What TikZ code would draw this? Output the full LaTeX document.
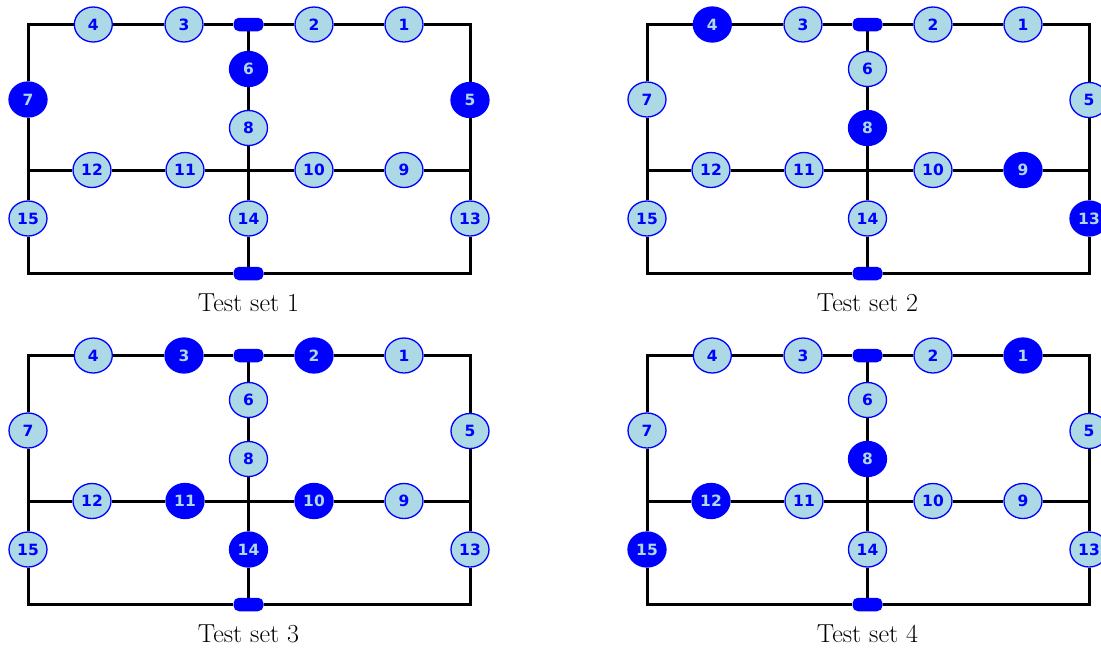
\documentclass[tikz,border=0pt]{standalone}
\usepackage{fontspec}
\newfontfamily\nodefont{DejaVu Sans}
\usetikzlibrary{shapes.geometric,backgrounds}
\definecolor{lblue}{RGB}{173,216,230}
\definecolor{pblue}{RGB}{0,0,255}
\tikzset{
  bnode/.style={ellipse, minimum width=38pt, minimum height=35pt, inner sep=0pt,
    font=\nodefont\bfseries\fontsize{15.5}{15.5}\selectfont, line width=1.3pt},
  lite/.style={bnode, draw=pblue, fill=lblue, text=pblue},
  dark/.style={bnode, draw=pblue, fill=pblue, text=lblue},
  busbar/.style={rectangle, rounded corners=5.5pt, fill=pblue, minimum width=30pt,
    minimum height=13.5pt, inner sep=0pt},
  wire/.style={line width=3pt, black},
  captext/.style={font=\fontsize{26}{30}\selectfont, anchor=base, inner sep=0pt},
}
\newcommand\drawpanel[4]{%
\begin{scope}[shift={(#1,#2)},
  s1/.style=lite, s2/.style=lite, s3/.style=lite, s4/.style=lite, s5/.style=lite,
  s6/.style=lite, s7/.style=lite, s8/.style=lite, s9/.style=lite, s10/.style=lite,
  s11/.style=lite, s12/.style=lite, s13/.style=lite, s14/.style=lite, s15/.style=lite,
  #3]
  \coordinate (p#4-TL) at (28,24.5);
  \coordinate (p#4-TR) at (470,24.5);
  \coordinate (p#4-BL) at (28,273.5);
  \coordinate (p#4-BR) at (470,273.5);
  \coordinate (p#4-ML) at (28,170);
  \coordinate (p#4-MR) at (470,170);
  \coordinate (p#4-C) at (248.5,170);
  \node[busbar] (p#4-bT) at (248.5,24.5) {};
  \node[busbar] (p#4-bB) at (248.5,273.5) {};
  \node[s4] (p#4-4) at (93.3,24.5) {4};
  \node[s3] (p#4-3) at (184,24.5) {3};
  \node[s2] (p#4-2) at (314,24.5) {2};
  \node[s1] (p#4-1) at (404,24.5) {1};
  \node[s6] (p#4-6) at (248.5,69) {6};
  \node[s8] (p#4-8) at (248.5,128) {8};
  \node[s14] (p#4-14) at (248.5,218.5) {14};
  \node[s7] (p#4-7) at (28,99.5) {7};
  \node[s5] (p#4-5) at (470,100) {5};
  \node[s15] (p#4-15) at (28,218.5) {15};
  \node[s13] (p#4-13) at (470,218.5) {13};
  \node[s12] (p#4-12) at (92,170) {12};
  \node[s11] (p#4-11) at (185,170) {11};
  \node[s10] (p#4-10) at (314,170) {10};
  \node[s9] (p#4-9) at (404,170) {9};
  \node[captext] (p#4-cap) at (248.5,311.5) {Test set #4};
  \begin{pgfonlayer}{background}
    \draw[wire] (p#4-4) -- (p#4-3) -- (p#4-bT) -- (p#4-2) -- (p#4-1) -- (p#4-TR)
      -- (p#4-5) -- (p#4-MR) -- (p#4-13) -- (p#4-BR) -- (p#4-bB) -- (p#4-BL)
      -- (p#4-15) -- (p#4-ML) -- (p#4-7) -- (p#4-TL) -- (p#4-4);
    \draw[wire] (p#4-ML) -- (p#4-12) -- (p#4-11) -- (p#4-C) -- (p#4-10) -- (p#4-9) -- (p#4-MR);
    \draw[wire] (p#4-bT) -- (p#4-6) -- (p#4-8) -- (p#4-C) -- (p#4-14) -- (p#4-bB);
  \end{pgfonlayer}
\end{scope}}
\begin{document}
\begin{tikzpicture}[x=1pt, y=-1pt]
  \useasboundingbox (0,0) rectangle (1101,649);
  \drawpanel{0}{0}{s6/.style=dark, s7/.style=dark, s5/.style=dark}{1}
  \drawpanel{619}{0}{s4/.style=dark, s8/.style=dark, s9/.style=dark, s13/.style=dark}{2}
  \drawpanel{0}{331}{s3/.style=dark, s2/.style=dark, s11/.style=dark, s10/.style=dark, s14/.style=dark}{3}
  \drawpanel{619}{331}{s1/.style=dark, s8/.style=dark, s12/.style=dark, s15/.style=dark}{4}
\end{tikzpicture}
\end{document}
